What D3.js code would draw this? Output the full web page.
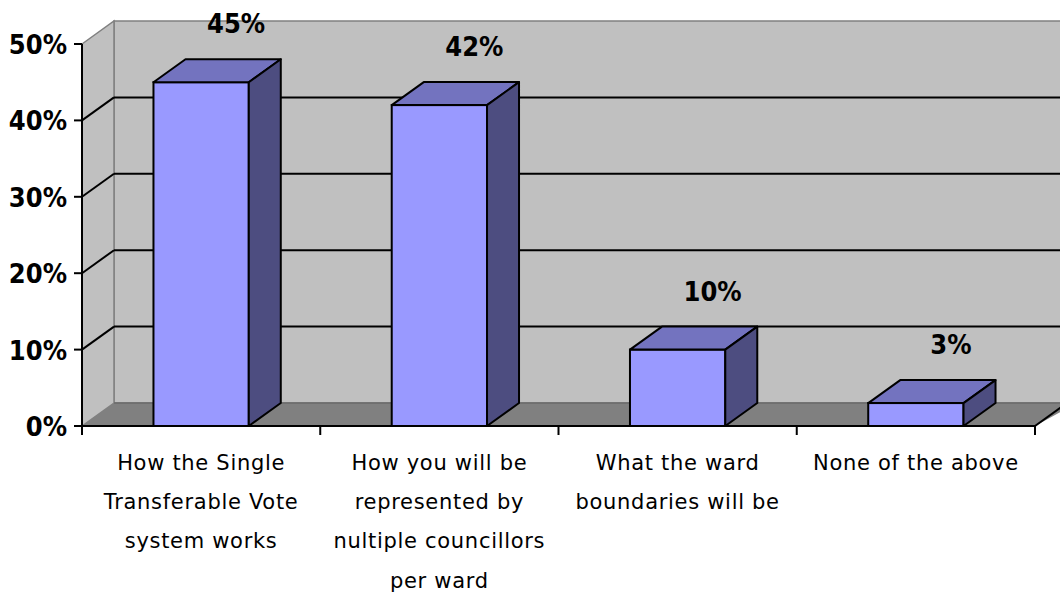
<!DOCTYPE html>
<html>
<head>
<meta charset="utf-8">
<script src="https://cdn.jsdelivr.net/npm/d3@7"></script>
<style>
  html, body { margin: 0; padding: 0; background: #ffffff; }
  svg { display: block; }
</style>
</head>
<body>
<svg id="chart" width="1060" height="594"></svg>
<script>
const categories = [
  ["How the Single", "Transferable Vote", "system works"],
  ["How you will be", "represented by", "nultiple councillors", "per ward"],
  ["What the ward", "boundaries will be"],
  ["None of the above"]
];
const categoryKeys = ["STV", "Multi", "Ward", "None"];
const values = [0.45, 0.42, 0.10, 0.03];
const valueLabels = ["45%", "42%", "10%", "3%"];
const yTicks = [0, 0.1, 0.2, 0.3, 0.4, 0.5];
const yTickLabels = ["0%", "10%", "20%", "30%", "40%", "50%"];

(function () {
const svg = d3.select("#chart");
const pLeft = 82, pRight = 1035, pBottom = 426, pTop = 44;
const dx = 32, dy = 23;

const x = d3.scaleBand().domain(categoryKeys).range([pLeft, pRight]).padding(0);
const y = d3.scaleLinear().domain([0, 0.5]).range([pBottom, pTop]);
const barW = x.bandwidth() * 0.4;

const fontBold = "'DejaVu Sans Condensed', 'DejaVu Sans', sans-serif";
const fontCat = "'DejaVu Sans', sans-serif";

// Back wall
svg.append("rect")
  .attr("x", pLeft + dx).attr("y", y(0.5) - dy)
  .attr("width", pRight - pLeft + 10).attr("height", y(0) - y(0.5))
  .attr("fill", "#c0c0c0").attr("stroke", "#808080").attr("stroke-width", 1.5);
// Side wall
svg.append("polygon")
  .attr("points", [[pLeft, y(0.5)], [pLeft + dx, y(0.5) - dy], [pLeft + dx, y(0) - dy], [pLeft, y(0)]].join(" "))
  .attr("fill", "#c0c0c0").attr("stroke", "#808080").attr("stroke-width", 1.5);
// Floor
svg.append("polygon")
  .attr("points", [[pLeft, y(0)], [pLeft + dx, y(0) - dy], [pRight + dx + 10, y(0) - dy], [pRight, y(0)]].join(" "))
  .attr("fill", "#808080").attr("stroke", "none");
svg.append("line")
  .attr("x1", pLeft + dx).attr("x2", 1060).attr("y1", y(0) - dy).attr("y2", y(0) - dy)
  .attr("stroke", "#6a6a6a").attr("stroke-width", 1.5);
svg.append("line")
  .attr("x1", pRight).attr("y1", y(0)).attr("x2", pRight + dx).attr("y2", y(0) - dy)
  .attr("stroke", "#000").attr("stroke-width", 2);

// Gridlines
const gridTicks = yTicks.filter(t => t > 0 && t < 0.5);
svg.selectAll(".gridBack").data(gridTicks).enter().append("line")
  .attr("x1", pLeft + dx).attr("x2", 1060)
  .attr("y1", d => y(d) - dy).attr("y2", d => y(d) - dy)
  .attr("stroke", "#000").attr("stroke-width", 2);
svg.selectAll(".gridSide").data(gridTicks).enter().append("line")
  .attr("x1", pLeft).attr("x2", pLeft + dx)
  .attr("y1", d => y(d)).attr("y2", d => y(d) - dy)
  .attr("stroke", "#000").attr("stroke-width", 2);

// Bars
const bars = svg.selectAll(".bar").data(values).enter().append("g");
bars.each(function(v, i) {
  const g = d3.select(this);
  const cx = x(categoryKeys[i]) + x.bandwidth() / 2;
  const x0 = cx - barW / 2, x1 = cx + barW / 2;
  const yt = y(v), yb = y(0);
  g.append("rect").attr("x", x0).attr("y", yt).attr("width", barW).attr("height", yb - yt)
    .attr("fill", "#9999ff").attr("stroke", "#000").attr("stroke-width", 2);
  g.append("polygon")
    .attr("points", [[x0, yt], [x0 + dx, yt - dy], [x1 + dx, yt - dy], [x1, yt]].join(" "))
    .attr("fill", "#7373bf").attr("stroke", "#000").attr("stroke-width", 2).attr("stroke-linejoin", "round");
  g.append("polygon")
    .attr("points", [[x1, yt], [x1 + dx, yt - dy], [x1 + dx, yb - dy], [x1, yb]].join(" "))
    .attr("fill", "#4d4d80").attr("stroke", "#000").attr("stroke-width", 2).attr("stroke-linejoin", "round");
  g.append("text")
    .attr("x", cx + dx + 3).attr("y", yt - dy - 26)
    .attr("text-anchor", "middle")
    .attr("font-family", fontBold).attr("font-weight", "bold").attr("font-size", 27)
    .attr("fill", "#000")
    .text(valueLabels[i]);
});

// Y axis
svg.append("line").attr("x1", pLeft).attr("x2", pLeft).attr("y1", pTop).attr("y2", pBottom + 9)
  .attr("stroke", "#000").attr("stroke-width", 2);
svg.selectAll(".ytick").data(yTicks).enter().append("line")
  .attr("x1", pLeft - 8).attr("x2", pLeft).attr("y1", d => y(d)).attr("y2", d => y(d))
  .attr("stroke", "#000").attr("stroke-width", 2);
svg.selectAll(".ylab").data(yTicks).enter().append("text")
  .attr("x", 67).attr("y", d => y(d)).attr("dy", "0.37em")
  .attr("text-anchor", "end")
  .attr("font-family", fontBold).attr("font-weight", "bold").attr("font-size", 27)
  .attr("fill", "#000")
  .text((d, i) => yTickLabels[i]);

// X axis
svg.append("line").attr("x1", pLeft).attr("x2", pRight).attr("y1", pBottom).attr("y2", pBottom)
  .attr("stroke", "#000").attr("stroke-width", 2);
const xEdges = categoryKeys.map(k => x(k)).concat([pRight]);
svg.selectAll(".xtick").data(xEdges).enter().append("line")
  .attr("x1", d => d).attr("x2", d => d).attr("y1", pBottom).attr("y2", pBottom + 9)
  .attr("stroke", "#000").attr("stroke-width", 2);
categories.forEach((lines, i) => {
  const cx = x(categoryKeys[i]) + x.bandwidth() / 2;
  const t = svg.append("text")
    .attr("text-anchor", "middle")
    .attr("font-family", fontCat).attr("font-size", 21).attr("letter-spacing", 0.7)
    .attr("fill", "#000");
  lines.forEach((ln, j) => {
    t.append("tspan").attr("x", cx).attr("y", 470 + j * 39.2).text(ln);
  });
});
})();
</script>
</body>
</html>
